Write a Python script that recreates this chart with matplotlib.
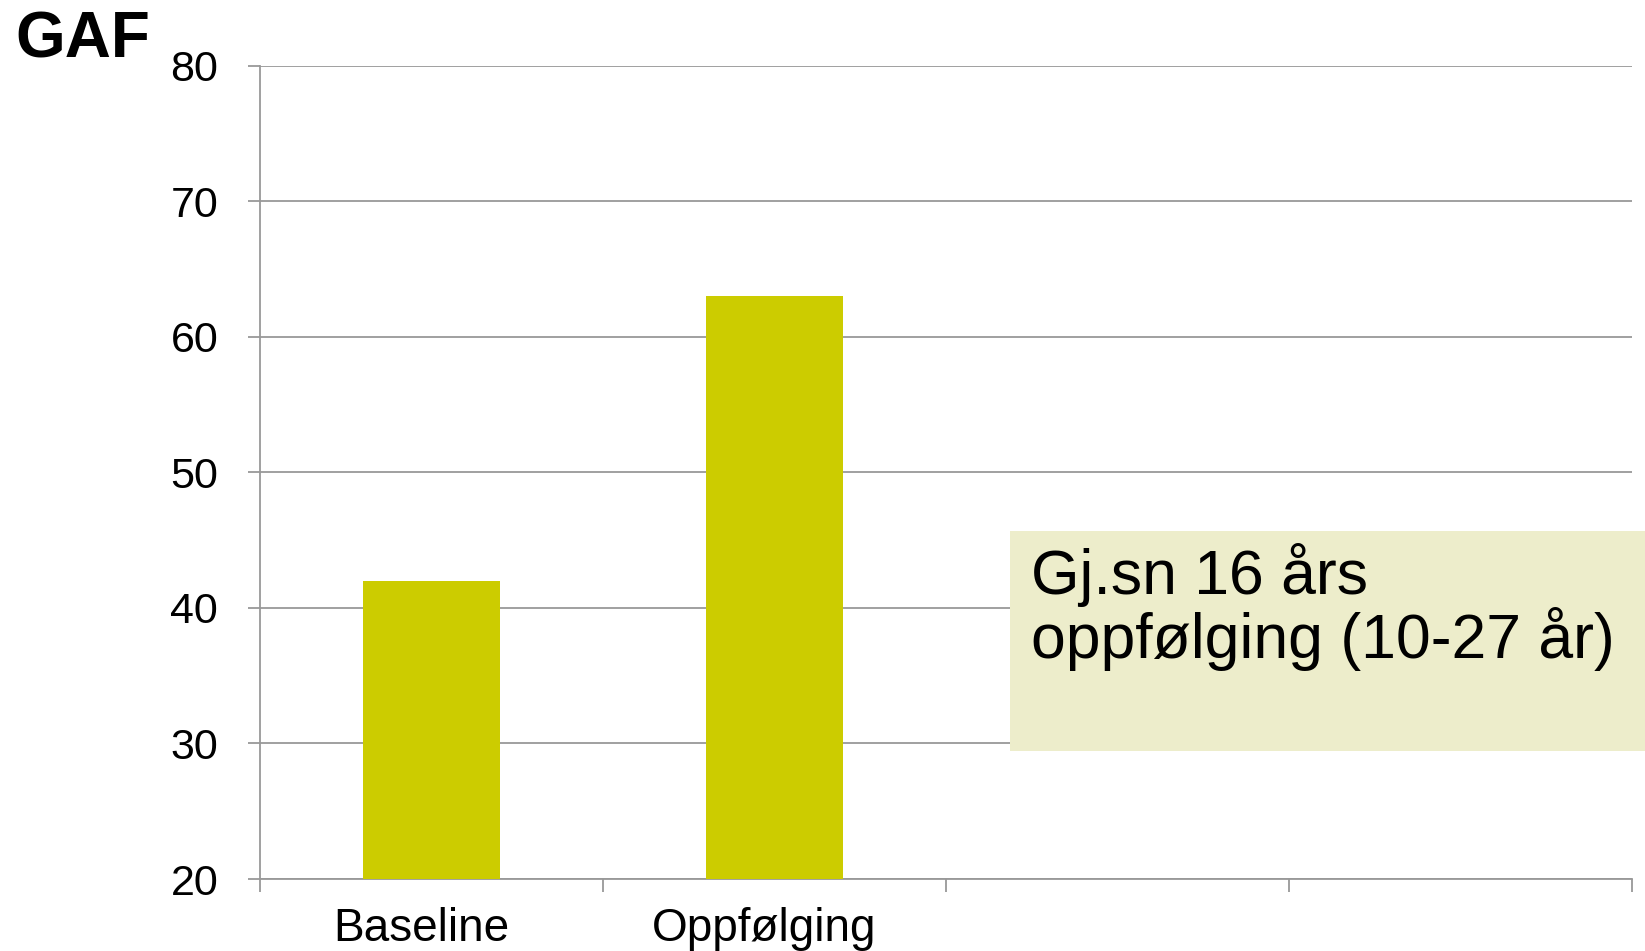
import numpy as np
import matplotlib
matplotlib.use("Agg")
import matplotlib.pyplot as plt
from matplotlib.patches import Rectangle

# data
categories = ["Baseline", "Oppfølging", "", ""]
gaf_values = [42, 63, np.nan, np.nan]
y_ticks = [20, 30, 40, 50, 60, 70, 80]

plt.rcParams['font.family'] = ['Liberation Sans', 'DejaVu Sans']

fig = plt.figure(figsize=(16.45, 9.51), dpi=100)
ax = fig.add_axes([0.158, 0.0757, 0.834, 0.8552])

x = np.arange(len(categories))
ax.bar(x, gaf_values, width=0.4, color="#CCCC00", zorder=3)

ax.set_xlim(-0.5, len(categories) - 0.5)
ax.set_ylim(20, 80)
ax.set_yticks(y_ticks)
ax.yaxis.grid(True, color="#999999", linewidth=1.3, zorder=0)

# category ticks sit on the boundaries, labels under the bars
ax.set_xticks(np.arange(len(categories) + 1) - 0.5)
ax.set_xticklabels([])
ax.set_xticks(x - 0.03, minor=True)
ax.set_xticklabels(categories, minor=True, fontsize=33)
ax.tick_params(axis="x", which="minor", length=0, pad=20)
ax.tick_params(axis="x", which="major", length=9, width=1.3, color="#999999")
ax.tick_params(axis="y", length=9, width=1.3, color="#999999", labelsize=31, pad=21)

for s in ["top", "right"]:
    ax.spines[s].set_visible(False)
for s in ["left", "bottom"]:
    ax.spines[s].set_color("#999999")
    ax.spines[s].set_linewidth(1.3)

fig.text(15 / 1645, 1 - 57 / 951, "GAF", fontsize=46, fontweight="bold", va="baseline")

fig.patches.append(Rectangle((1010 / 1645, 1 - 751 / 951), 0.4, 220 / 951,
                             transform=fig.transFigure, facecolor="#EDEDCB",
                             edgecolor="none", zorder=5))
fig.text(1031 / 1645, 1 - 594 / 951, "Gj.sn 16 års", fontsize=45, va="baseline", zorder=6)
fig.text(1031 / 1645, 1 - 658 / 951, "oppfølging (10-27 år)", fontsize=45, va="baseline", zorder=6)

fig.savefig("out.png", dpi=100)
